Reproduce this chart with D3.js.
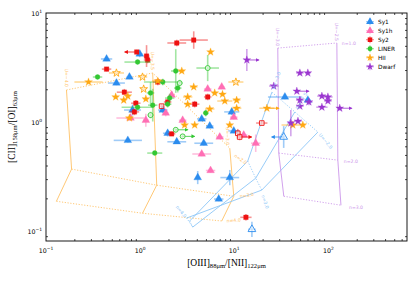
<!DOCTYPE html>
<html><head><meta charset="utf-8">
<script src="https://cdn.jsdelivr.net/npm/d3@7"></script>
<style>body{margin:0;background:#fff}svg{display:block}</style>
</head><body><svg id="c" width="415" height="282"></svg>
<script>
// ---------- data ----------
const categories = ["Sy1", "Sy1h", "Sy2", "LINER", "HII", "Dwarf"];
const xTicks = [0.1, 1, 10, 100];
const xTickExp = ["\u22121", "0", "1", "2"];
const yTicks = [0.1, 1, 10];
const yTickExp = ["\u22121", "0", "1"];

// [ [OIII]/[NII], [CII]/[OI], xerr(dex), yerr(dex), flag ]  flag: o=open, >/< = limit arrow
const sy1 = [
  [0.44,3.79,0.06,0.02,""],[0.56,2.28,0.09,0.02,""],[0.77,2.59,0.03,0.02,""],[0.99,4.21,0.03,0.03,""],
  [0.83,1.29,0.09,0.05,""],[1.74,1.29,0.05,0.03,""],[1.96,0.79,0.05,0.03,""],[2.45,0.66,0.10,0.02,""],
  [0.74,0.68,0.15,0.02,""],[4.74,0.64,0.10,0.02,""],[4.09,0.31,0.02,0.06,""],[8.96,0.31,0.10,0.07,""],
  [6.84,0.197,0.05,0.02,""],[15.4,0.104,0.04,0.07,"o"],[5.49,0.92,0.04,0.02,""],[4.51,1.07,0.05,0.02,""],
  [9.4,1.24,0.08,0.03,""],[9.88,0.83,0.06,0.02,""],[34.5,1.70,0.18,0.02,""],[33.5,0.73,0.02,0.10,"o<"],
  [60.5,1.59,0.03,0.02,""]
];
const sy1h = [
  [0.79,1.09,0.15,0.02,""],[1.15,1.04,0.03,0.06,""],[1.87,1.21,0.03,0.03,""],[2.83,1.04,0.04,0.02,""],
  [2.16,1.77,0.03,0.03,""],[5.22,2.01,0.04,0.02,""],[7.36,2.10,0.03,0.02,""],[4.51,0.51,0.10,0.02,""],
  [5.6,0.36,0.05,0.02,""],[7.01,0.73,0.04,0.02,""],[9.88,1.11,0.04,0.02,""],[12.6,0.76,0.04,0.02,""],
  [16.9,0.64,0.05,0.08,""]
];
const sy2 = [
  [0.44,3.06,0.05,0.02,""],[0.68,1.88,0.08,0.03,""],[0.90,1.49,0.05,0.03,""],[0.87,1.24,0.05,0.03,""],
  [1.17,4.03,0.03,0.10,""],[1.20,3.71,0.04,0.03,""],[0.92,4.39,0.02,0.02,"<"],[1.54,2.33,0.05,0.03,""],
  [1.96,1.53,0.04,0.03,""],[2.16,0.78,0.04,0.02,""],[2.45,5.31,0.10,0.03,""],[3.71,5.65,0.15,0.08,""],
  [5.22,1.70,0.04,0.03,""],[3.80,1.46,0.05,0.03,""],[13.3,0.134,0.06,0.03,""],
  [1.69,1.40,0.02,0.02,"o"],[10.9,0.79,0.03,0.04,"o"],[11.4,0.73,0.03,0.03,"o>"],[19.6,0.98,0.06,0.02,"o"]
];
const liner = [
  [0.353,2.59,0.05,0.02,""],[0.94,3.55,0.14,0.02,""],[0.94,1.37,0.17,0.02,""],[1.29,1.85,0.04,0.10,""],
  [1.36,1.43,0.05,0.15,""],[1.43,0.52,0.08,0.02,""],[2.06,1.66,0.05,0.04,""],[2.39,2.94,0.05,0.20,""],
  [1.74,2.33,0.20,0.03,""],[2.51,2.05,0.04,0.04,""],[1.96,1.46,0.04,0.03,""],[4.98,1.21,0.03,0.03,""],
  [5.22,3.13,0.12,0.12,"o"],[2.63,2.28,0.03,0.03,"o"],[2.39,0.85,0.02,0.02,"o>"],[2.83,0.74,0.02,0.02,"o>"],
  [1.29,1.16,0.03,0.03,"o"]
];
const hii = [
  [0.283,2.33,0.15,0.02,""],[0.55,1.70,0.03,0.02,""],[0.67,1.59,0.03,0.02,""],[0.74,1.73,0.03,0.02,""],
  [0.77,1.09,0.04,0.02,""],[1.15,1.63,0.03,0.02,""],[1.54,2.38,0.06,0.02,""],[2.77,2.94,0.03,0.02,""],
  [5.6,4.39,0.02,0.02,""],[3.71,2.10,0.04,0.02,""],[3.20,1.70,0.05,0.02,""],[3.20,1.46,0.03,0.02,""],
  [6.2,1.85,0.03,0.02,""],[7.5,1.80,0.03,0.02,""],[7.93,1.56,0.08,0.02,""],[10.6,1.59,0.04,0.02,""],
  [10.6,1.34,0.05,0.02,""],[5.49,1.32,0.05,0.02,""],[22.2,1.34,0.08,0.02,">"],[8.96,0.94,0.03,0.02,""],
  [2.97,0.94,0.03,0.02,""],[41.9,0.94,0.12,0.02,""],[53.5,0.94,0.03,0.02,""],[3.80,0.94,0.03,0.02,""],
  [0.56,2.82,0.08,0.02,"o"],[1.06,2.59,0.05,0.02,"o"],[10.4,2.33,0.08,0.02,"o"],[1.09,2.01,0.03,0.02,"o"]
];
const dwarf = [
  [13.6,3.71,0.02,0.10,">"],[49.8,2.82,0.04,0.02,""],[60.5,2.82,0.03,0.02,""],[26.3,2.14,0.05,0.02,""],
  [46.2,1.92,0.02,0.02,">"],[85.3,1.73,0.05,0.02,""],[98.8,1.70,0.05,0.02,""],[49.8,1.59,0.04,0.03,""],
  [62,1.53,0.04,0.03,""],[98.8,1.56,0.04,0.02,""],[85.3,1.37,0.06,0.02,""],[49.8,1.40,0.04,0.02,""],
  [132,1.34,0.02,0.02,">"],[39.9,0.98,0.03,0.12,""],[47.5,1.02,0.04,0.02,""]
];

// model grids: rows = U lines, columns = n values
const hiiGridU = ["U=\u22124.0", "U=\u22123.5", "U=\u22123.0"];
const hiiGridN = ["n=2.0", "n=3.0", "n=4.0"];
const hiiGridX = [[0.165,0.187,0.129],[1.36,1.50,1.06],[8.96,9.88,7.36]];
const hiiGridY = [[1.97,0.371,0.188],[2.82,0.264,0.146],[0.577,0.209,0.124]];

const agnGridU = ["U=\u22123.0", "U=\u22122.5", "U=\u22122.0"];
const agnGridN = ["n=2.0", "n=3.0", "n=4.0"];
const agnGridX = [[25.1,13.9,3.36],[44.0,16.9,3.62],[77.3,19.6,3.12]];
const agnGridY = [[1.88,0.439,0.124],[1.24,0.306,0.109],[0.81,0.238,0.132]];

const dwarfGridU = ["U=\u22123.0", "U=\u22122.5"];
const dwarfGridN = ["n=1.0", "n=2.0", "n=3.0"];
const dwarfGridX = [[29.0,29.7,33.6],[123,126,136]];
const dwarfGridY = [[4.77,0.52,0.209],[5.31,0.448,0.173]];

// ---------- styles ----------
const series = [
  {name:"Sy1",  data:sy1,  color:"#2b8cee", sym:d3.symbolTriangle, size:26},
  {name:"Sy1h", data:sy1h, color:"#ff6eb4", sym:d3.symbolTriangle, size:26},
  {name:"Sy2",  data:sy2,  color:"#ee1111", sym:d3.symbolSquare,   size:21},
  {name:"LINER",data:liner,color:"#33c733", sym:d3.symbolCircle,   size:19},
  {name:"HII",  data:hii,  color:"#ffa812", sym:d3.symbolStar,     size:19},
  {name:"Dwarf",data:dwarf,color:"#9b36d0", sym:d3.symbolStar,     size:19}
];

const svg = d3.select("#c");
const m = {l:46, r:407, t:13, b:241};
const x = d3.scaleLog().domain([0.1, 684]).range([m.l, m.r]);
const y = d3.scaleLog().domain([0.0813, 10]).range([m.b, m.t]);

const defs = svg.append("defs");
defs.append("clipPath").attr("id","clip")
  .append("rect").attr("x",m.l).attr("y",m.t).attr("width",m.r-m.l).attr("height",m.b-m.t);

const plot = svg.append("g").attr("clip-path","url(#clip)");

// ---------- model grids ----------
function drawGrid(gx, gy, color, uLab, nLab, opts){
  const g = plot.append("g");
  const line = d3.line().x(d=>x(d[0])).y(d=>y(d[1]));
  const nU = gx.length, nN = gx[0].length;
  for(let i=0;i<nU;i++){
    const pts = gx[i].map((v,j)=>[v, gy[i][j]]);
    g.append("path").attr("d",line(pts)).attr("fill","none").attr("stroke",color).attr("stroke-width",0.9);
  }
  for(let j=0;j<nN;j++){
    const pts = gx.map((row,i)=>[row[j], gy[i][j]]);
    g.append("path").attr("d",line(pts)).attr("fill","none").attr("stroke",color)
      .attr("stroke-width",0.9).attr("stroke-dasharray","1.2,1.6");
  }
  const lg = svg.append("g").attr("fill",color).style("font-family","DejaVu Sans").style("font-size","4.6px");
  uLab.forEach((t,i)=>{
    const o = opts.u[i];
    lg.append("text").attr("transform",`translate(${x(gx[i][0])+o[0]},${y(gy[i][0])+o[1]}) rotate(${o[2]})`)
      .attr("text-anchor",o[3]).attr("dy","0.35em").text(t);
  });
  nLab.forEach((t,j)=>{
    const o = opts.n[j];
    if(!o) return;
    const i = o[4];
    lg.append("text").attr("transform",`translate(${x(gx[i][j])+o[0]},${y(gy[i][j])+o[1]}) rotate(${o[2]})`)
      .attr("text-anchor",o[3]).attr("dy","0.35em").text(t);
  });
}

drawGrid(hiiGridX, hiiGridY, "#ffc266", hiiGridU, hiiGridN, {
  u:[[0,-3,90,"end"],[0,-3,90,"end"],[-2,-3,90,"end"]],
  n:[[5,7,35,"start",2],[6,0,-8,"start",2],[5,0,-5,"start",2]]
});
drawGrid(agnGridX, agnGridY, "#8cc6f7", agnGridU, agnGridN, {
  u:[[1,-3,-70,"start"],[2,-3,-60,"start"],[2,2,50,"start"]],
  n:[null,[1,5,70,"start",2],[-4,-4,50,"end",0]]
});
drawGrid(dwarfGridX, dwarfGridY, "#cc96ea", dwarfGridU, dwarfGridN, {
  u:[[0,-2,90,"end"],[0,-2,90,"end"]],
  n:[[5,0,0,"start",1],[6,1,0,"start",1],[8,2,0,"start",1]]
});

// ---------- arrow markers ----------
series.forEach((s,i)=>{
  defs.append("marker").attr("id","ar"+i).attr("viewBox","0 0 10 10").attr("refX",8).attr("refY",5)
    .attr("markerWidth",4).attr("markerHeight",4).attr("orient","auto-start-reverse")
    .append("path").attr("d","M0,0L10,5L0,10z").attr("fill",s.color);
});

// ---------- points ----------
series.forEach((s,si)=>{
  const g = plot.append("g");
  s.data.forEach(d=>{
    const [vx,vy,ex,ey,flag] = d;
    const px = x(vx), py = y(vy);
    const eg = g.append("g").attr("stroke",s.color).attr("stroke-opacity",0.45).attr("stroke-width",1.6);
    if(ex>0) eg.append("line").attr("x1",x(vx/Math.pow(10,ex))).attr("x2",x(vx*Math.pow(10,ex))).attr("y1",py).attr("y2",py);
    if(ey>0) eg.append("line").attr("y1",y(vy/Math.pow(10,ey))).attr("y2",y(vy*Math.pow(10,ey))).attr("x1",px).attr("x2",px);
    if(flag.includes(">")||flag.includes("<")){
      const dir = flag.includes(">") ? 1 : -1;
      g.append("line").attr("x1",px).attr("x2",px+dir*12).attr("y1",py).attr("y2",py)
        .attr("stroke",s.color).attr("stroke-opacity",0.8).attr("stroke-width",1)
        .attr("marker-end",`url(#ar${si})`);
    }
    const open = flag.includes("o");
    g.append("path").attr("d",d3.symbol().type(s.sym).size(s.size)())
      .attr("transform",`translate(${px},${py})`)
      .attr("fill",open?"#fff":s.color).attr("fill-opacity",open?0.6:1)
      .attr("stroke",s.color).attr("stroke-width",open?0.9:0.3);
  });
});

// ---------- axes ----------
function minorTicks(dom){
  const out=[];
  for(let dd=-2; dd<4; dd++) for(let k=2;k<10;k++){const v=k*Math.pow(10,dd); if(v>dom[0]&&v<dom[1]) out.push(v);}
  return out;
}
const xMin = minorTicks(x.domain()), yMin = minorTicks(y.domain());
function ax(gen, scale, major, minor, tr){
  const g = svg.append("g").attr("transform",tr);
  g.call(gen(scale).tickValues(major).tickSize(-3.5).tickFormat(""));
  g.call(gen(scale).tickValues(minor).tickSize(-2).tickFormat(""));
  g.selectAll(".domain").remove();
  g.selectAll("line").attr("stroke","#000").attr("stroke-width",0.7);
  return g;
}
ax(d3.axisBottom, x, xTicks, xMin, `translate(0,${m.b})`);
ax(d3.axisTop, x, xTicks, xMin, `translate(0,${m.t})`);
ax(d3.axisLeft, y, yTicks, yMin, `translate(${m.l},0)`);
ax(d3.axisRight, y, yTicks, yMin, `translate(${m.r},0)`);

svg.append("rect").attr("x",m.l).attr("y",m.t).attr("width",m.r-m.l).attr("height",m.b-m.t)
  .attr("fill","none").attr("stroke","#000").attr("stroke-width",0.9);

const tl = svg.append("g").style("font-family","DejaVu Sans").attr("fill","#000");
xTicks.forEach((v,i)=>{
  const t = tl.append("text").attr("x",x(v)).attr("y",m.b+12).attr("text-anchor","middle").style("font-size","6.3px");
  t.append("tspan").text("10");
  t.append("tspan").attr("dy",-3).style("font-size","4.4px").text(xTickExp[i]);
});
yTicks.forEach((v,i)=>{
  const t = tl.append("text").attr("x",m.l-4).attr("y",y(v)+2.5).attr("text-anchor","end").style("font-size","6.3px");
  t.append("tspan").text("10");
  t.append("tspan").attr("dy",-3).style("font-size","4.4px").text(yTickExp[i]);
});

// axis titles
const xl = svg.append("text").attr("x",(m.l+m.r)/2).attr("y",266).attr("text-anchor","middle")
  .style("font-family","Liberation Serif").style("font-size","9.5px");
xl.append("tspan").text("[OIII]");
xl.append("tspan").attr("dy",2.2).style("font-size","6.6px").text("88\u03bcm");
xl.append("tspan").attr("dy",-2.2).text("/[NII]");
xl.append("tspan").attr("dy",2.2).style("font-size","6.6px").text("122\u03bcm");

const yl = svg.append("text").attr("transform",`translate(15,${(m.t+m.b)/2}) rotate(-90)`).attr("text-anchor","middle")
  .style("font-family","Liberation Serif").style("font-size","9.5px");
yl.append("tspan").text("[CII]");
yl.append("tspan").attr("dy",2.2).style("font-size","6.6px").text("158\u03bcm");
yl.append("tspan").attr("dy",-2.2).text("/[OI]");
yl.append("tspan").attr("dy",2.2).style("font-size","6.6px").text("63\u03bcm");

// ---------- legend ----------
const leg = svg.append("g").style("font-family","DejaVu Sans").style("font-size","5.8px");
series.forEach((s,i)=>{
  const yy = 21.7 + i*9;
  leg.append("line").attr("x1",366).attr("x2",374).attr("y1",yy).attr("y2",yy).attr("stroke",s.color).attr("stroke-opacity",0.45).attr("stroke-width",1.2);
  leg.append("line").attr("x1",370).attr("x2",370).attr("y1",yy-3.5).attr("y2",yy+3.5).attr("stroke",s.color).attr("stroke-opacity",0.45).attr("stroke-width",1.2);
  leg.append("path").attr("d",d3.symbol().type(s.sym).size(s.size)()).attr("transform",`translate(370,${yy})`)
    .attr("fill",s.color);
  leg.append("text").attr("x",378).attr("y",yy+2).text(categories[i]);
});
</script></body></html>
